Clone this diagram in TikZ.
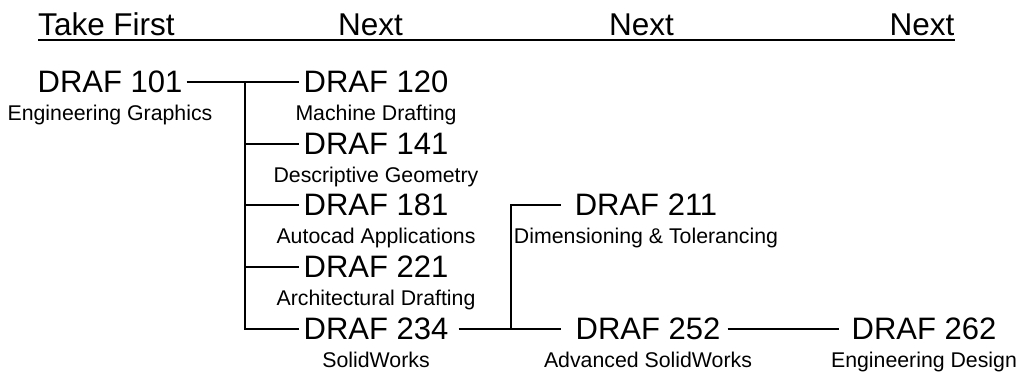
\documentclass[tikz,border=0pt]{standalone}
\usepackage{fontspec}
\setmainfont{Liberation Sans}
\usepackage{tikz}

\tikzset{
	code/.style={font=\fontsize{31}{31}\selectfont, inner sep=4pt},
	ttl/.style={font=\fontsize{21.3}{21.3}\selectfont, inner sep=0pt, anchor=base},
	hd/.style={font=\fontsize{31.5}{31.5}\selectfont, inner sep=0pt, anchor=base},
	link/.style={line width=1.5pt}
}

\begin{document}
\begin{tikzpicture}[x=1pt, y=-1pt]
	
	\useasboundingbox (0,0) rectangle (1024,373);
	
	% headings
	\node[hd] (hd1) at (106.5, 35) {Take First};
	\node[hd] (hd2) at (370.5, 35) {Next};
	\node[hd] (hd3) at (641.5, 35) {Next};
	\node[hd] (hd4) at (922, 35)   {Next};
	\draw[line width=2.8pt] ([yshift=-5pt]hd1.base west) -- ([yshift=-5pt]hd4.base east);
	
	% courses
	\node[code] (c101) at (110, 82)  {DRAF 101};
	\node[code] (c120) at (376, 82)  {DRAF 120};
	\node[code] (c141) at (376, 144) {DRAF 141};
	\node[code] (c181) at (376, 205) {DRAF 181};
	\node[code] (c221) at (376, 267) {DRAF 221};
	\node[code] (c234) at (376, 329) {DRAF 234};
	\node[code] (c211) at (646, 205) {DRAF 211};
	\node[code] (c252) at (648, 329) {DRAF 252};
	\node[code] (c262) at (924, 329) {DRAF 262};
	
	\node[ttl] (t101) at ([yshift=-28pt]c101.base) {Engineering Graphics};
	\node[ttl] (t120) at ([yshift=-28pt]c120.base) {Machine Drafting};
	\node[ttl] (t141) at ([yshift=-28pt]c141.base) {Descriptive Geometry};
	\node[ttl] (t181) at ([yshift=-28pt]c181.base) {Autocad Applications};
	\node[ttl] (t221) at ([yshift=-28pt]c221.base) {Architectural Drafting};
	\node[ttl] (t234) at ([yshift=-28pt]c234.base) {SolidWorks};
	\node[ttl] (t211) at ([yshift=-28pt]c211.base) {Dimensioning \& Tolerancing};
	\node[ttl] (t252) at ([yshift=-28pt]c252.base) {Advanced SolidWorks};
	\node[ttl] (t262) at ([yshift=-28pt]c262.base) {Engineering Design};
	
	\coordinate (j1) at (245, 82);
	\coordinate (j2) at (511, 329);
	
	\path[-, link] (c101) edge (c120);
	\draw[link] (j1) |- (c234);
	\path[-, link] (j1 |- c141) edge (c141);
	\path[-, link] (j1 |- c181) edge (c181);
	\path[-, link] (j1 |- c221) edge (c221);
	
	\path[-, link] (c234) edge[shorten <=6pt, shorten >=10pt] (c252);
	\draw[link, shorten >=10pt] (j2) |- (c211);
	\path[-, link] (c252) edge[shorten <=3pt, shorten >=8pt] (c262);
	
\end{tikzpicture}
\end{document}
